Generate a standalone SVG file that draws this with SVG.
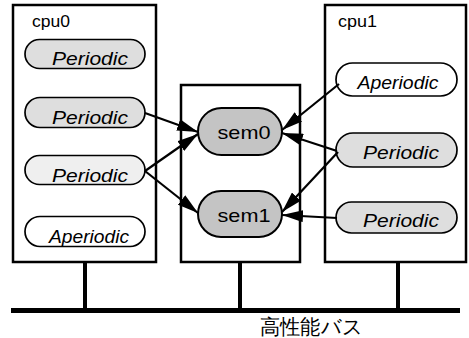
<svg xmlns="http://www.w3.org/2000/svg" width="469" height="338" viewBox="0 0 469 338">
<style>
.box{fill:#fff;stroke:#000;stroke-width:2.5}
.pill{stroke:#000;stroke-width:1.7}
.shade{fill:#dedede}
.light{fill:#efefef}
.white{fill:#fff}
.sem{fill:#c4c4c4;stroke:#000;stroke-width:2}
.t{font-family:"Liberation Sans",Arial,sans-serif;fill:#000}
.it{font-style:italic;font-size:18px}
.edge{stroke:#000;stroke-width:2.2;fill:none;marker-end:url(#ah)}
</style>
<defs>
<marker id="ah" markerUnits="userSpaceOnUse" markerWidth="21" markerHeight="12" refX="21" refY="6" orient="auto">
<path d="M0,0 L21,6 L0,12 z" fill="#000"/>
</marker>
</defs>
<rect width="469" height="338" fill="#fff"/>
<g id="bus">
<rect x="11" y="308" width="449" height="5" fill="#000"/>
<rect x="83" y="262" width="4" height="48" fill="#000"/>
<rect x="238" y="262" width="4" height="48" fill="#000"/>
<rect x="396" y="262" width="4" height="48" fill="#000"/>
<text class="t" x="260" y="334" font-size="21" font-family="'Liberation Sans','Noto Sans CJK JP',sans-serif" textLength="103" lengthAdjust="spacingAndGlyphs">高性能バス</text>
</g>
<g id="cpu0">
<rect class="box" x="13" y="5" width="143" height="257"/>
<text class="t" x="32" y="27" font-size="17" textLength="38" lengthAdjust="spacingAndGlyphs">cpu0</text>
</g>
<g id="mid">
<rect class="box" x="181" y="85" width="119" height="177"/>
</g>
<g id="cpu1">
<rect class="box" x="325" y="5" width="141" height="257"/>
<text class="t" x="338" y="27" font-size="17" textLength="39" lengthAdjust="spacingAndGlyphs">cpu1</text>
</g>
<g id="c0p1"><rect class="pill shade" x="25" y="39.5" width="120" height="29" rx="14.5"/><text class="t it" x="90" y="64.5" text-anchor="middle" textLength="76" lengthAdjust="spacingAndGlyphs">Periodic</text></g>
<g id="c0p2"><rect class="pill shade" x="25" y="97.5" width="120" height="30" rx="15"/><text class="t it" x="90" y="123.5" text-anchor="middle" textLength="76" lengthAdjust="spacingAndGlyphs">Periodic</text></g>
<g id="c0p3"><rect class="pill light" x="25" y="155.5" width="120" height="29" rx="14.5"/><text class="t it" x="90" y="181.5" text-anchor="middle" textLength="76" lengthAdjust="spacingAndGlyphs">Periodic</text></g>
<g id="c0a4"><rect class="pill white" x="25" y="216.5" width="120" height="30" rx="15"/><text class="t it" x="89" y="242.5" text-anchor="middle" textLength="80" lengthAdjust="spacingAndGlyphs">Aperiodic</text></g>
<g id="c1a1"><rect class="pill white" x="336" y="63" width="121" height="33" rx="16.5"/><text class="t it" x="398" y="88.5" text-anchor="middle" textLength="81" lengthAdjust="spacingAndGlyphs">Aperiodic</text></g>
<g id="c1p2"><rect class="pill shade" x="336" y="133" width="121" height="34" rx="17"/><text class="t it" x="401" y="158.5" text-anchor="middle" textLength="76" lengthAdjust="spacingAndGlyphs">Periodic</text></g>
<g id="c1p3"><rect class="pill shade" x="336" y="202" width="121" height="31" rx="15.5"/><text class="t it" x="401" y="226.5" text-anchor="middle" textLength="76" lengthAdjust="spacingAndGlyphs">Periodic</text></g>
<g id="sem0"><rect class="sem" x="198" y="108" width="84" height="47" rx="23.5"/><text class="t" x="244" y="138.5" font-size="19" text-anchor="middle" textLength="53" lengthAdjust="spacingAndGlyphs">sem0</text></g>
<g id="sem1"><rect class="sem" x="198" y="191" width="84" height="46" rx="23"/><text class="t" x="244" y="221.5" font-size="19" text-anchor="middle" textLength="53" lengthAdjust="spacingAndGlyphs">sem1</text></g>
<g id="connectors">
<line class="edge" x1="145" y1="113" x2="198" y2="132"/>
<line class="edge" x1="145" y1="171" x2="198" y2="134"/>
<line class="edge" x1="145" y1="171" x2="198" y2="213"/>
<line class="edge" x1="339" y1="84" x2="282" y2="130"/>
<line class="edge" x1="337" y1="151" x2="282" y2="133"/>
<line class="edge" x1="338" y1="152" x2="282" y2="212"/>
<line class="edge" x1="337" y1="218" x2="282" y2="215"/>
</g>
</svg>
